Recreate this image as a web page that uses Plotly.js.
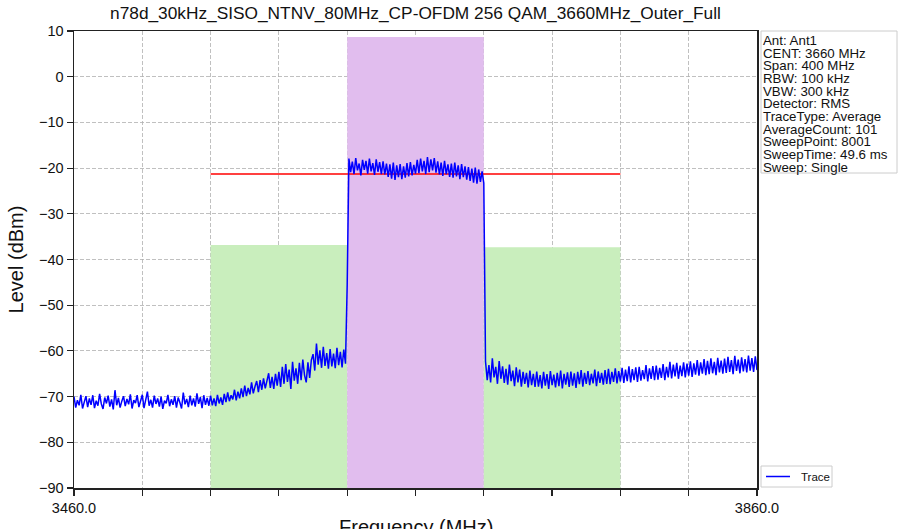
<!DOCTYPE html>
<html><head><meta charset="utf-8">
<script src="https://cdn.plot.ly/plotly-3.0.1.min.js"></script>
<style>html,body{margin:0;padding:0;background:#fff}</style>
</head><body><div id="chart" style="width:899px;height:529px"></div>
<script>
// ---- data ----
const titleText = "n78d_30kHz_SISO_NTNV_80MHz_CP-OFDM 256 QAM_3660MHz_Outer_Full";
const xTitle = "Frequency (MHz)";
const yTitle = "Level (dBm)";
const sweepStartMHz = 3460;
const sweepStepMHz = 1;
// measured level (dBm) every 1 MHz from 3460 to 3860 MHz
const traceLevel = [
 // 3460-3539
 -70.0,-72.4,-70.8,-71.9,-69.6,-72.6,-71.2,-69.9,-72.3,-70.4,
 -71.8,-69.7,-72.5,-70.9,-72.0,-69.4,-71.6,-72.7,-70.2,-71.5,
 -69.8,-72.2,-70.6,-72.8,-68.6,-71.9,-70.3,-72.4,-71.0,-69.9,
 -72.1,-70.5,-71.7,-69.5,-72.6,-70.8,-71.4,-69.7,-72.3,-71.1,
 -69.6,-72.5,-70.3,-68.9,-72.0,-70.7,-72.4,-69.8,-71.6,-70.4,
 -72.2,-70.0,-72.7,-70.9,-71.5,-69.6,-72.1,-70.6,-71.8,-69.9,
 -72.4,-70.2,-71.3,-72.6,-69.1,-71.7,-70.5,-72.3,-69.8,-71.9,
 -70.4,-72.2,-69.3,-71.6,-70.1,-72.5,-69.7,-71.8,-70.3,-72.0,
 // 3540-3619
 -69.8,-71.9,-70.4,-72.1,-69.6,-71.5,-70.2,-71.8,-69.4,-71.2,
 -69.1,-71.0,-69.7,-70.6,-68.5,-70.8,-68.9,-70.4,-68.2,-70.1,
 -67.6,-69.9,-68.1,-69.5,-66.9,-69.3,-67.8,-66.6,-69.0,-66.4,
 -68.5,-66.0,-68.2,-66.8,-64.9,-68.1,-65.7,-68.3,-65.0,-67.6,
 -64.6,-67.9,-63.5,-67.2,-62.9,-66.8,-64.1,-68.3,-62.4,-66.5,
 -63.8,-67.2,-62.6,-66.4,-61.9,-65.3,-66.9,-62.5,-65.9,-62.0,
 -60.7,-64.3,-58.4,-63.0,-59.9,-63.7,-59.1,-63.3,-60.5,-63.9,
 -59.6,-63.4,-60.6,-63.8,-59.3,-63.1,-60.2,-63.6,-59.7,-62.8,
 // 3620
 -45.5,
 // 3621-3700
 -17.9,-20.9,-18.6,-21.3,-17.8,-20.5,-19.0,-21.6,-18.2,-20.4,
 -18.4,-21.2,-17.9,-20.7,-18.9,-21.5,-18.1,-20.8,-18.7,-21.3,
 -18.5,-21.4,-19.0,-21.9,-19.2,-22.3,-18.8,-22.6,-19.4,-22.0,
 -19.1,-22.4,-19.6,-22.1,-18.9,-21.8,-18.7,-21.6,-19.3,-21.2,
 -18.2,-21.1,-17.9,-20.7,-18.4,-21.3,-17.6,-20.9,-18.1,-20.5,
 -17.8,-21.0,-18.5,-21.4,-18.8,-21.7,-18.4,-21.3,-19.2,-21.9,
 -19.0,-22.1,-18.8,-21.8,-19.4,-22.4,-19.1,-22.0,-19.6,-22.5,
 -19.8,-22.8,-20.1,-23.2,-19.9,-23.4,-20.3,-23.0,-20.7,-23.3,
 // 3701-3860
 -62.3,-66.4,-63.1,-66.9,-61.6,-65.8,-63.5,-67.2,-62.2,-66.1,
 -63.4,-67.0,-63.9,-67.4,-63.0,-66.6,-64.3,-67.7,-63.6,-66.9,
 -64.1,-67.8,-64.6,-67.2,-64.8,-68.0,-64.3,-67.5,-65.0,-67.9,
 -64.5,-67.8,-65.3,-68.2,-64.6,-67.6,-65.1,-68.3,-64.4,-67.5,
 -65.2,-68.0,-64.8,-67.7,-64.3,-68.2,-65.0,-67.4,-64.7,-67.9,
 -64.5,-67.6,-64.9,-68.1,-64.6,-67.3,-64.2,-67.8,-64.8,-67.2,
 -64.4,-67.5,-65.0,-67.1,-64.1,-67.7,-64.5,-67.0,-64.8,-67.4,
 -64.2,-67.2,-63.9,-67.3,-64.6,-66.8,-63.8,-67.1,-64.4,-66.7,
 -63.7,-67.0,-64.1,-66.6,-63.4,-66.9,-64.0,-66.4,-63.6,-66.8,
 -63.5,-66.5,-64.2,-66.2,-63.1,-66.7,-63.8,-66.1,-63.3,-66.4,
 -63.2,-66.3,-63.7,-65.9,-62.9,-66.4,-63.5,-65.8,-62.4,-66.0,
 -63.0,-65.6,-62.6,-66.1,-63.2,-65.5,-62.5,-65.8,-62.8,-65.4,
 -62.3,-65.7,-62.7,-65.2,-62.0,-65.4,-62.5,-65.0,-61.8,-65.3,
 -62.2,-65.1,-61.6,-64.9,-62.4,-65.3,-61.5,-64.7,-62.1,-65.0,
 -61.7,-64.8,-61.3,-64.6,-62.0,-65.1,-61.1,-64.4,-61.9,-64.9,
 -61.4,-64.5,-61.8,-64.7,-61.0,-64.3,-61.6,-64.6,-61.2,-64.2
];
const bandStart = [3540, 3620, 3700];
const bandEnd   = [3620, 3700, 3780];
const bandTop   = [-36.8, 8.7, -37.3];
const limitFreq  = [3540, 3780];
const limitLevel = [-21.3, -21.3];
const xTickVals = [3460, 3500, 3540, 3580, 3620, 3660, 3700, 3740, 3780, 3820, 3860];
const xTickText = ["3460.0", "", "", "", "", "", "", "", "", "", "3860.0"];
const yRange = [-90, 10];
const traceName = "Trace";
const infoLines = ["Ant: Ant1", "CENT: 3660 MHz", "Span: 400 MHz", "RBW: 100 kHz", "VBW: 300 kHz",
  "Detector: RMS", "TraceType: Average", "AverageCount: 101", "SweepPoint: 8001",
  "SweepTime: 49.6 ms", "Sweep: Single"];

// ---- build ----
const bandColors = ["#c9eebd", "#e1bdee", "#c9eebd"];
const traces = [];
for (let i = 0; i < bandStart.length; i++) {
  traces.push({
    type: "scatter", mode: "lines",
    x: [bandStart[i], bandStart[i], bandEnd[i], bandEnd[i], bandStart[i]],
    y: [yRange[0], bandTop[i], bandTop[i], yRange[0], yRange[0]],
    fill: "toself", fillcolor: bandColors[i], line: {width: 0},
    showlegend: false, hoverinfo: "skip"
  });
}
traces.push({
  type: "scatter", mode: "lines", x: limitFreq, y: limitLevel,
  line: {color: "#ff0000", width: 1.5}, showlegend: false
});
const freqs = traceLevel.map((_, i) => sweepStartMHz + i * sweepStepMHz);
traces.push({
  type: "scatter", mode: "lines", name: traceName, x: freqs, y: traceLevel,
  line: {color: "#0000ff", width: 1.5}, showlegend: false
});

const FONT = "Arial, 'Liberation Sans', sans-serif";
const plotW = 683, plotH = 457;
const annotations = infoLines.map((t, i) => ({
  xref: "paper", yref: "paper", x: 1, y: 1, xanchor: "left", yanchor: "top",
  xshift: 4, yshift: -(i * 12.65), showarrow: false, text: t,
  font: {family: FONT, size: 13.3, color: "#111"}
}));
// hand-drawn legend entry
annotations.push({
  xref: "paper", yref: "paper", x: 1 + 42 / plotW, y: 11.5 / plotH,
  xanchor: "left", yanchor: "middle", showarrow: false, text: traceName,
  font: {family: FONT, size: 11.5, color: "#111"}
});
// x-axis title placed below the tick labels (partly beyond the page edge, as in the source)
annotations.push({
  xref: "paper", yref: "paper", x: 0.5, y: 0, xanchor: "center", yanchor: "top",
  yshift: -26, showarrow: false, text: xTitle,
  font: {family: FONT, size: 20, color: "#111"}
});
const shapes = [
  {type: "rect", xref: "paper", yref: "paper",
   x0: 1 + 4 / plotW, x1: 1 + 140 / plotW, y0: 1 - 142 / plotH, y1: 1,
   line: {color: "#cccccc", width: 1}, fillcolor: "rgba(255,255,255,0)"},
  {type: "rect", xref: "paper", yref: "paper",
   x0: 1 + 4 / plotW, x1: 1 + 75 / plotW, y0: 1 / plotH, y1: 22 / plotH,
   line: {color: "#cccccc", width: 1}, fillcolor: "#ffffff"},
  {type: "line", xref: "paper", yref: "paper",
   x0: 1 + 9 / plotW, x1: 1 + 33 / plotW, y0: 11.5 / plotH, y1: 11.5 / plotH,
   line: {color: "#0000ff", width: 1.5}}
];
const layout = {
  width: 899, height: 529,
  margin: {l: 74, r: 142, t: 31, b: 41},
  paper_bgcolor: "#fff", plot_bgcolor: "#fff",
  font: {family: FONT, color: "#111"},
  showlegend: false,
  title: {text: titleText, font: {family: FONT, size: 17.3, color: "#111"},
          x: 0.5, xref: "paper", y: 0.975, yanchor: "middle"},
  xaxis: {
    range: [3460, 3860], tickmode: "array", tickvals: xTickVals, ticktext: xTickText,
    ticks: "outside", ticklen: 6, tickwidth: 1.2, tickcolor: "#222",
    showline: true, linecolor: "#222", linewidth: 1.5, mirror: true,
    showgrid: true, gridcolor: "#b0b0b0", griddash: "4px,2px", gridwidth: 0.8,
    zeroline: false, tickfont: {family: FONT, size: 14.5, color: "#111"},
    automargin: false
  },
  yaxis: {
    range: yRange, dtick: 10, tick0: 0,
    ticks: "outside", ticklen: 6, tickwidth: 1.2, tickcolor: "#222",
    showline: true, linecolor: "#222", linewidth: 1.5, mirror: true,
    showgrid: true, gridcolor: "#b0b0b0", griddash: "4px,2px", gridwidth: 0.8,
    zeroline: false, tickfont: {family: FONT, size: 14.5, color: "#111"},
    title: {text: yTitle, font: {family: FONT, size: 20, color: "#111"}, standoff: 10},
    automargin: false
  },
  shapes: shapes,
  annotations: annotations
};
Plotly.newPlot("chart", traces, layout, {displayModeBar: false, staticPlot: true});
</script></body></html>
